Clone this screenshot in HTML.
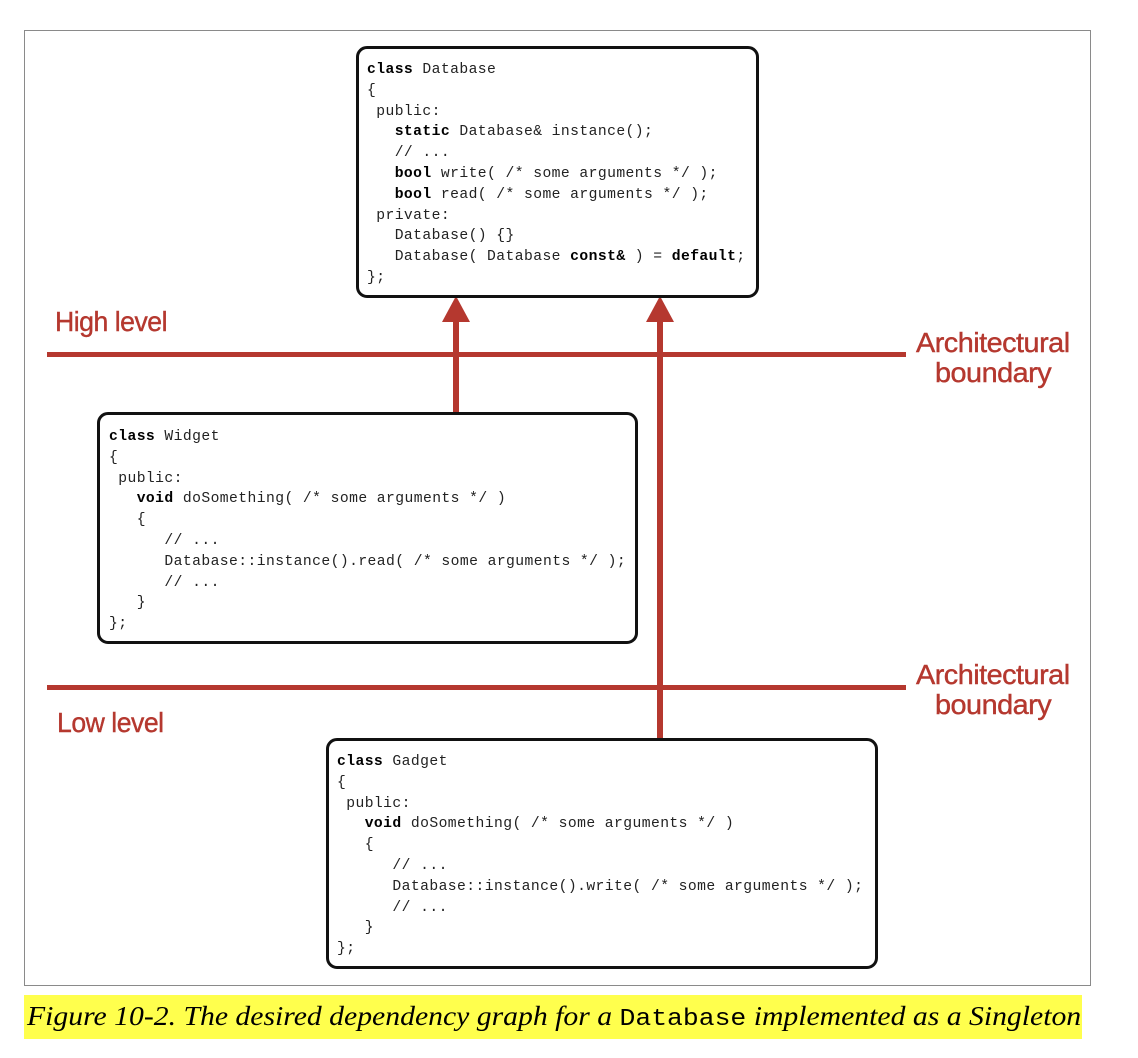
<!DOCTYPE html>
<html><head><meta charset="utf-8"><style>
body{margin:0;width:1138px;height:1058px;background:#fff;position:relative;overflow:hidden;font-family:"Liberation Sans",sans-serif}
.frame{position:absolute;left:24px;top:30px;width:1067px;height:956px;border:1px solid #8a8a8a;box-sizing:border-box}
.box{position:absolute;border:3px solid #111;border-radius:11px;box-sizing:border-box;background:#fff}
pre{position:absolute;margin:0;font-family:"Liberation Mono",monospace;font-size:14.7px;line-height:20.8px;color:#222;letter-spacing:0.42px}
b{color:#000}
.lbl{position:absolute;color:#b5382f;font-size:28px;line-height:30px;transform-origin:left top;white-space:nowrap;letter-spacing:-0.5px;-webkit-text-stroke:0.4px #b5382f}
.cap{position:absolute;left:24px;top:995px;width:1058px;height:44px;background:#ffff4d}
.cap span{position:absolute;left:3px;top:6px;font-family:"Liberation Serif",serif;font-style:italic;font-size:27px;white-space:nowrap;transform-origin:left top;transform:scaleX(1.1)}
</style></head><body>
<div class="frame"></div>
<svg width="1138" height="1058" style="position:absolute;left:0;top:0">
<g fill="#b5382f" stroke="none">
<rect x="47" y="352" width="859" height="5"/>
<rect x="47" y="685" width="859" height="5"/>
<rect x="453" y="318" width="6" height="96"/>
<polygon points="442,322 470,322 456,296"/>
<rect x="657" y="318" width="6" height="422"/>
<polygon points="646,322 674,322 660,296"/>
</g></svg>
<div class="box" style="left:356px;top:46px;width:403px;height:252px"></div>
<pre style="left:367px;top:60px">
<b>class</b> Database
{
 public:
   <b>static</b> Database&amp; instance();
   // ...
   <b>bool</b> write( /* some arguments */ );
   <b>bool</b> read( /* some arguments */ );
 private:
   Database() {}
   Database( Database <b>const&amp;</b> ) = <b>default</b>;
};</pre>
<div class="box" style="left:97px;top:412px;width:541px;height:232px"></div>
<pre style="left:109px;top:427px">
<b>class</b> Widget
{
 public:
   <b>void</b> doSomething( /* some arguments */ )
   {
      // ...
      Database::instance().read( /* some arguments */ );
      // ...
   }
};</pre>
<div class="box" style="left:326px;top:738px;width:552px;height:231px"></div>
<pre style="left:337px;top:752px">
<b>class</b> Gadget
{
 public:
   <b>void</b> doSomething( /* some arguments */ )
   {
      // ...
      Database::instance().write( /* some arguments */ );
      // ...
   }
};</pre>
<div class="lbl" style="left:55px;top:307px;transform:scaleX(0.95)">High level</div>
<div class="lbl" style="left:57px;top:708px;transform:scaleX(0.95)">Low level</div>
<div class="lbl" style="left:916px;top:328px;transform:scaleX(1.03)">Architectural</div>
<div class="lbl" style="left:935px;top:358px;transform:scaleX(1.03)">boundary</div>
<div class="lbl" style="left:916px;top:660px;transform:scaleX(1.03)">Architectural</div>
<div class="lbl" style="left:935px;top:690px;transform:scaleX(1.03)">boundary</div>
<div class="cap"><span>Figure 10-2. The desired dependency graph for a <span style="position:static;font-family:'Liberation Mono',monospace;font-style:normal;font-size:24px">Database</span> implemented as a Singleton</span></div>
</body></html>
